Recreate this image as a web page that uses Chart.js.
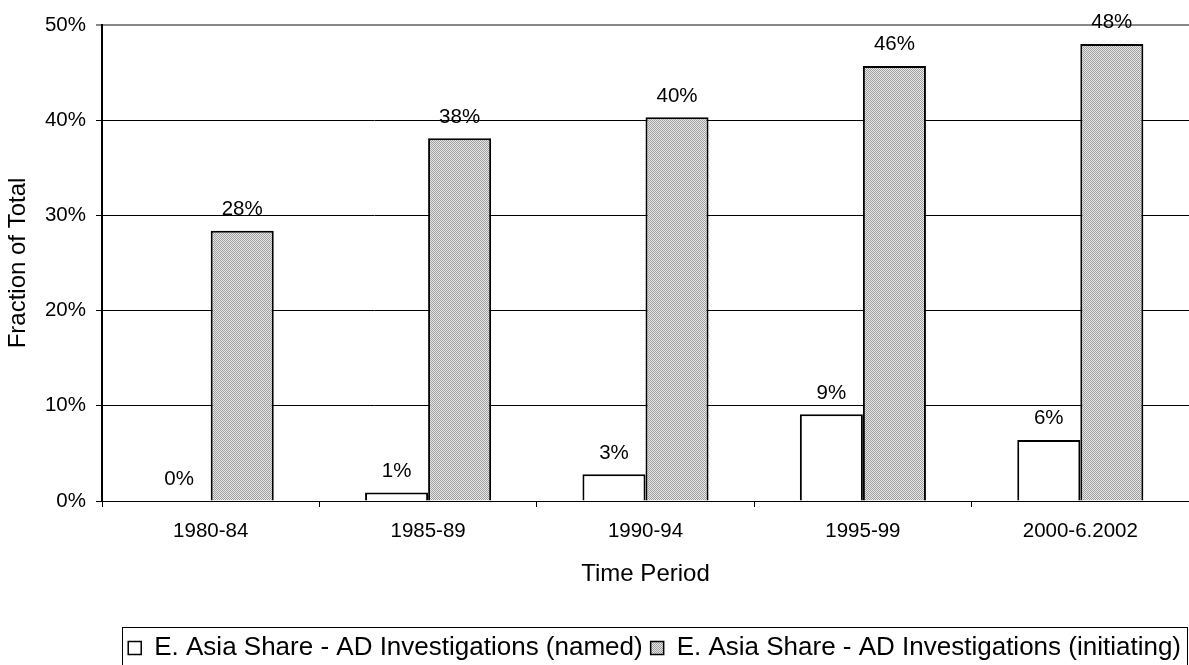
<!DOCTYPE html>
<html><head><meta charset="utf-8">
<script src="https://cdn.jsdelivr.net/npm/chart.js@4.4.0/dist/chart.umd.min.js"></script>
<style>html,body{margin:0;padding:0;background:#fff}#wrap{width:1189px;height:665px}</style>
</head><body><div id="wrap"><canvas id="c" width="1189" height="665"></canvas></div>
<script>
const categories = ['1980-84', '1985-89', '1990-94', '1995-99', '2000-6.2002'];
const namedShare = [0, 0.9, 2.8, 9.1, 6.4];
const initiatingShare = [28.4, 38.1, 40.3, 45.7, 48.0];
const seriesNames = ['E. Asia Share - AD Investigations (named)', 'E. Asia Share - AD Investigations (initiating)'];
const yTicks = [0, 10, 20, 30, 40, 50];

function makePattern() {
  const p = document.createElement('canvas');
  p.width = 2; p.height = 2;
  const g = p.getContext('2d');
  g.fillStyle = '#e6e6e6'; g.fillRect(0, 0, 2, 2);
  g.fillStyle = '#a0a0a0'; g.fillRect(0, 0, 1, 1); g.fillRect(1, 1, 1, 1);
  return g.createPattern(p, 'repeat');
}
const FONT = 'Liberation Sans, Arial, sans-serif';
const TICK = 20.5, TITLE = 24, LEG = 26;

const labelPlugin = {
  id: 'valLabels',
  afterDatasetsDraw(chart) {
    const ctx = chart.ctx;
    ctx.save();
    ctx.font = TICK + 'px ' + FONT;
    ctx.fillStyle = '#000';
    ctx.textAlign = 'center';
    ctx.textBaseline = 'bottom';
    chart.data.datasets.forEach((ds, i) => {
      chart.getDatasetMeta(i).data.forEach((el, j) => {
        ctx.fillText(Math.round(ds.data[j]) + '%', el.x, el.y - 11);
      });
    });
    ctx.restore();
  }
};
const legendBox = {
  id: 'legendBox',
  afterDraw(chart) {
    const hb = chart.legend.legendHitBoxes;
    if (!hb || !hb.length) return;
    const l = Math.min(...hb.map(h => h.left)) - 6;
    const r = Math.max(...hb.map(h => h.left + h.width)) + 6;
    const t = 627;
    const ctx = chart.ctx;
    ctx.save();
    ctx.strokeStyle = '#000';
    ctx.lineWidth = 1;
    ctx.strokeRect(Math.round(l) + 0.5, t + 0.5, Math.round(r - l), 700);
    ctx.restore();
  }
};

new Chart(document.getElementById('c'), {
  type: 'bar',
  data: {
    labels: categories,
    datasets: [
      { label: seriesNames[0], data: namedShare, backgroundColor: '#ffffff', borderColor: '#000', borderWidth: 2 },
      { label: seriesNames[1], data: initiatingShare, backgroundColor: makePattern(), borderColor: '#000', borderWidth: 2 }
    ]
  },
  options: {
    responsive: false,
    animation: false,
    layout: { padding: { left: 0, right: 0, top: 25, bottom: -6 } },
    datasets: { bar: { barPercentage: 1, categoryPercentage: 0.58 } },
    plugins: {
      tooltip: { enabled: false },
      legend: {
        position: 'bottom',
        align: 'end',
        labels: {
          font: { size: LEG, family: FONT }, color: '#000',
          boxWidth: 13, boxHeight: 13, padding: 8,
          generateLabels(chart) {
            return chart.data.datasets.map((d, i) => ({
              text: d.label, fillStyle: d.backgroundColor, strokeStyle: '#000', lineWidth: 1.5, datasetIndex: i
            }));
          }
        }
      }
    },
    scales: {
      x: {
        grid: { display: true, drawOnChartArea: false, offset: true, tickLength: 6, color: '#000' },
        border: { color: '#000', width: 1 },
        ticks: { font: { size: TICK, family: FONT }, color: '#000', padding: 12 },
        title: { display: true, text: 'Time Period', font: { size: TITLE, family: FONT }, color: '#000', padding: { top: 0, bottom: 38 } },
        afterFit(s) { s.height = 126; }
      },
      y: {
        min: 0, max: 50,
        afterBuildTicks(s) { s.ticks = yTicks.map(v => ({ value: v })); },
        grid: {
          color: c => c.tick && c.tick.value === 50 ? '#888' : '#000',
          lineWidth: c => c.tick && c.tick.value === 50 ? 2 : 1,
          tickLength: 6
        },
        border: { color: '#000', width: 2 },
        ticks: { font: { size: TICK, family: FONT }, color: '#000', padding: 10, callback: v => v + '%' },
        title: { display: true, text: 'Fraction of Total', font: { size: TITLE, family: FONT }, color: '#000', padding: { top: 4, bottom: 0 } },
        afterFit(s) { s.width = 102; }
      }
    }
  },
  plugins: [labelPlugin, legendBox]
});
</script></body></html>
